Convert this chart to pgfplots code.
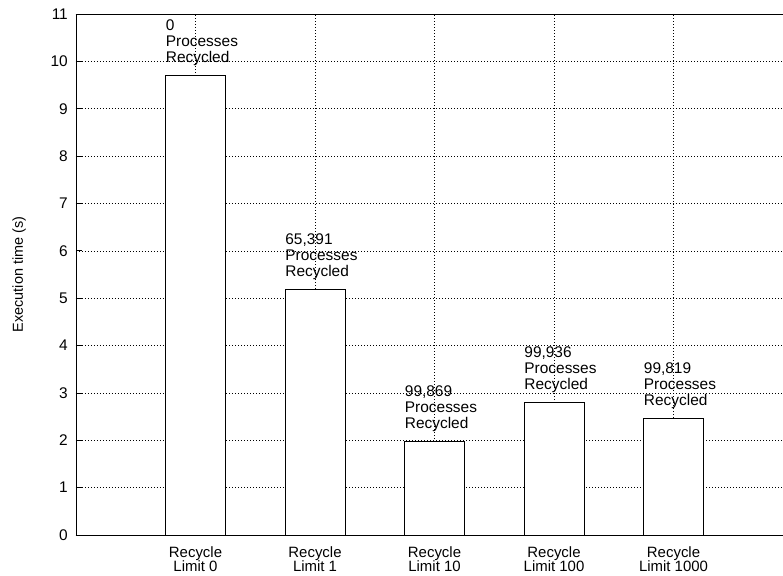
\documentclass[border=0pt]{standalone}
\usepackage{pgfplots}
\pgfplotsset{compat=1.18}
\usepackage{pgfplotstable}
\usepackage{fontspec}
\setmainfont{Liberation Sans}

\pgfplotstableread{
x y label
0 9.70 0
1 5.18 65,391
2 1.98 99,869
3 2.79 99,936
4 2.46 99,819
}\recycledata

\begin{document}
\begin{tikzpicture}
\begin{axis}[
    name=ax,
    scale only axis,
    width=707bp, height=521bp,
    xmin=-1, xmax=4.916,
    ymin=0, ymax=11,
    axis x line*=box,
    axis y line*=left,
    axis line style={line width=0.9bp},
    xtick={0,1,2,3,4},
    xticklabels={{Recycle\\Limit 0},{Recycle\\Limit 1},{Recycle\\Limit 10},{Recycle\\Limit 100},{Recycle\\Limit 1000}},
    xticklabel style={align=center, font=\fontsize{15}{15}\selectfont, inner sep=0pt, anchor=north, yshift=-11bp},
    x tick style={draw=none},
    ytick={0,1,...,11},
    yticklabel style={font=\fontsize{15.5}{16}\selectfont, inner sep=0pt, xshift=-8bp},
    y tick style={line width=0.8bp, black},
    major tick length=6bp,
    tick align=inside,
    /pgf/number format/assume math mode=true,
    grid=major,
    major grid style={black, line width=0.5bp, dash pattern=on 1bp off 2bp},
    ylabel={Execution time (s)},
    every axis y label/.style={at={(axis description cs:-0.0806,0.5)}, rotate=90, anchor=center, font=\fontsize{14.5}{16}\selectfont},
    clip=false,
]
\addplot[ybar, bar width=60bp, draw=black, line width=0.8bp, fill=white,
    point meta=explicit symbolic,
    nodes near coords={\pgfplotspointmeta\\Processes\\Recycled},
    every node near coord/.append style={anchor=south west, align=left, inner sep=0pt,
        xshift=-30bp, yshift=9.5bp, font=\fontsize{15.5}{16}\selectfont},
] table[x=x, y=y, meta=label] {\recycledata};
\end{axis}
\pgfresetboundingbox
\path[use as bounding box] ([shift={(-76bp,-41bp)}]ax.south west) rectangle ([shift={(0bp,14bp)}]ax.north east);
\end{tikzpicture}
\end{document}
